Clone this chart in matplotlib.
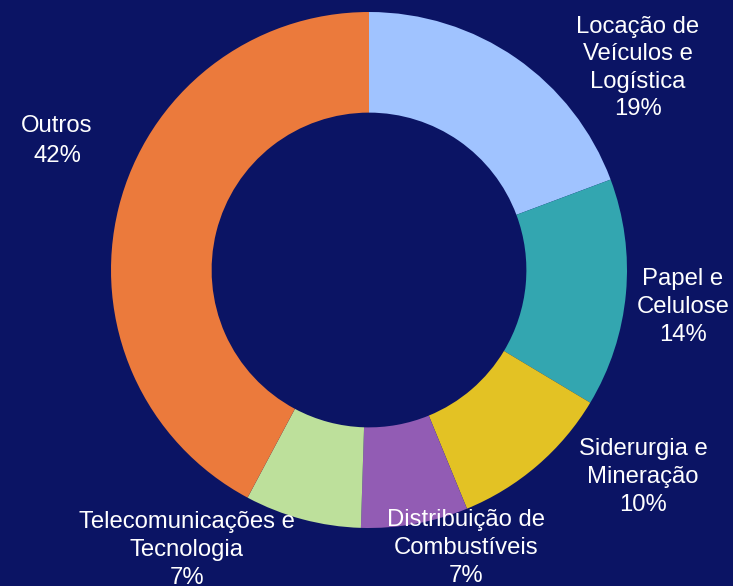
import matplotlib
matplotlib.use("Agg")
import matplotlib.pyplot as plt

categories = ["Locação de\nVeículos e\nLogística", "Papel e\nCelulose", "Siderurgia e\nMineração",
              "Distribuição de\nCombustíveis", "Telecomunicações e\nTecnologia", "Outros"]
values = [19.3, 14.3, 10.2, 6.7, 7.3, 42.2]
pct_labels = ["19%", "14%", "10%", "7%", "7%", "42%"]
colors = ["#A0C3FF", "#33A6B0", "#E3C224", "#925CB4", "#BDE09B", "#EB7A3C"]

# label block centres in pixel coordinates (layout)
label_px = [(638, 68), (683, 307), (643, 477), (466, 548), (187, 550), (57, 141)]
label_spacing = [1.33, 1.33, 1.33, 1.33, 1.33, 1.49]

W, H = 733, 586
cx, cy, R = 369, 270, 258
bg = "#0B1464"

plt.rcParams['font.family'] = ['Liberation Sans', 'DejaVu Sans']
fig = plt.figure(figsize=(W / 100, H / 100), dpi=100, facecolor=bg)
ax = fig.add_axes([0, 0, 1, 1])
ax.set_facecolor(bg)
ax.pie(values, colors=colors, startangle=90, counterclock=False, radius=1,
       wedgeprops=dict(width=0.39, linewidth=0))
ax.set_xlim(-cx / R, (W - cx) / R)
ax.set_ylim(-(H - cy) / R, cy / R)
ax.set_aspect('equal')
ax.axis('off')

for cat, pct, (px, py), ls in zip(categories, pct_labels, label_px, label_spacing):
    ax.text((px - cx) / R, (cy - py) / R, cat + "\n" + pct, ha='center', va='center',
            color='white', fontsize=17.2, linespacing=ls)

fig.savefig("out.png", dpi=100, facecolor=bg)
